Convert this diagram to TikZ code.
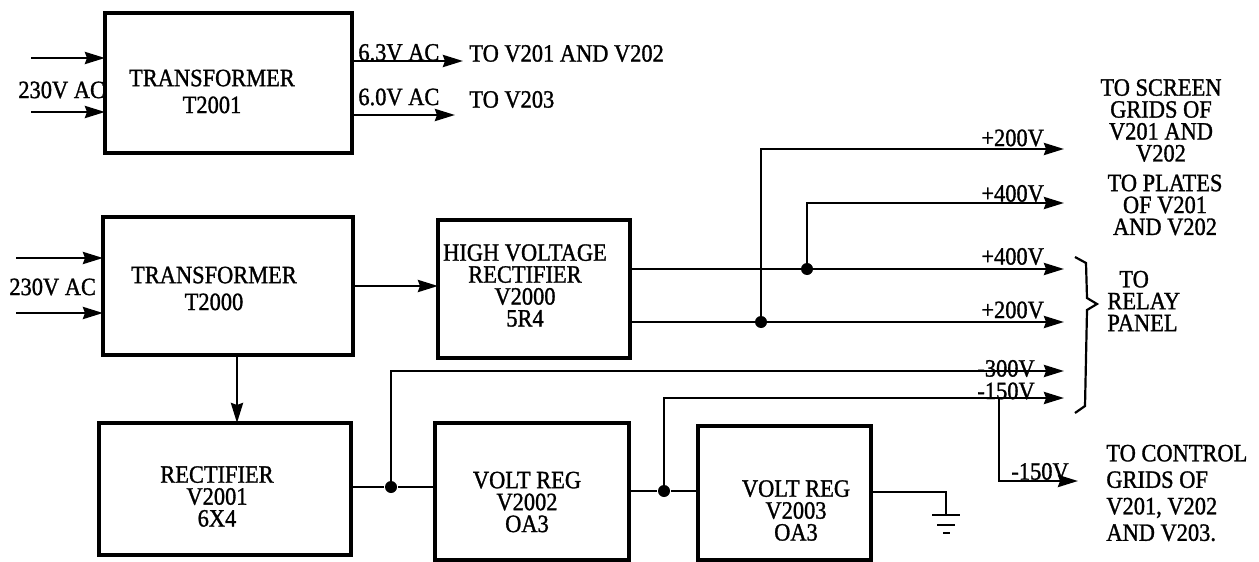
\documentclass[tikz,border=0pt]{standalone}
\usepackage{fontspec}
\setmainfont{Liberation Serif}[FakeStretch=0.9,FakeBold=1.2]
\usetikzlibrary{arrows.meta}

\begin{document}
\begin{tikzpicture}[
  x=0.5bp, y=-0.5bp,
  line width=1.4bp,
  arr/.style={-{Stealth[length=10bp,width=6bp,inset=1bp]}},
  blk/.style={draw,rectangle,inner sep=0pt,outer sep=0pt,line width=1.6bp},
  txt/.style={inner sep=0pt,align=center,font=\fontsize{12.5}{11}\selectfont},
  lbl/.style={inner sep=0pt,anchor=west,font=\fontsize{12.5}{15}\selectfont},
  dot/.style={circle,fill,inner sep=0pt,minimum size=6bp}
]
  \useasboundingbox (0,0) rectangle (1259,562);

  % blocks
  \node[blk,minimum width=123.5bp,minimum height=70bp] (t2001) at (228.5,83) {};
  \node[blk,minimum width=125bp,minimum height=69bp] (t2000) at (228,286) {};
  \node[blk,minimum width=96bp,minimum height=69bp] (hv) at (534,289) {};
  \node[blk,minimum width=126bp,minimum height=66bp] (rc) at (225,489) {};
  \node[blk,minimum width=97bp,minimum height=68.5bp] (vr2) at (532,491.5) {};
  \node[blk,minimum width=86.5bp,minimum height=67bp] (vr3) at (784.5,493) {};

  \node[txt,font=\fontsize{12.5}{13.5}\selectfont] (t2001txt) at (212,91.5) {TRANSFORMER\\T2001};
  \node[txt,font=\fontsize{12.5}{13.5}\selectfont] (t2000txt) at (214,288.5) {TRANSFORMER\\T2000};
  \node[txt] (hvtxt) at (525,285.5) {HIGH VOLTAGE\\RECTIFIER\\V2000\\5R4};
  \node[txt] (rctxt) at (217,496.5) {RECTIFIER\\V2001\\6X4};
  \node[txt] (vr2txt) at (527,502) {VOLT REG\\V2002\\OA3};
  \node[txt] (vr3txt) at (796,510.5) {VOLT REG\\V2003\\OA3};

  % transformer T2001
  \coordinate (a1) at (31,58);
  \coordinate (a2) at (31,112);
  \coordinate (o1) at (463,61);
  \coordinate (o2) at (455,115);
  \draw[arr] (a1) -- (a1 -| t2001.west);
  \draw[arr] (a2) -- (a2 -| t2001.west);
  \draw[arr] (o1 -| t2001.east) -- (o1);
  \draw[arr] (o2 -| t2001.east) -- (o2);
  \node[lbl] (ac1) at (17,90) {230V AC};
  \node[lbl] (l63) at (357,52.5) {6.3V AC};
  \node[lbl] (l60) at (357,97) {6.0V AC};
  \node[lbl] (d63) at (468,53.5) {TO V201 AND V202};
  \node[lbl] (d60) at (468,99.5) {TO V203};

  % transformer T2000
  \coordinate (b1) at (16,258);
  \coordinate (b2) at (16,313);
  \draw[arr] (b1) -- (b1 -| t2000.west);
  \draw[arr] (b2) -- (b2 -| t2000.west);
  \node[lbl] (ac0) at (8,287) {230V AC};
  \draw[arr] (t2000.east |- 0,286) -- (hv.west |- 0,286);
  \draw[arr] (t2000.south -| 237,0) -- (rc.north -| 237,0);

  % high voltage outputs
  \coordinate (p400) at (1064,269);
  \coordinate (p200) at (1064,322);
  \coordinate (s200) at (1064,149);
  \coordinate (s400) at (1064,203);
  \node[dot] (j400) at (807,269) {};
  \node[dot] (j200) at (761,322) {};
  \draw[arr] (hv.east |- p400) -- (p400);
  \draw[arr] (hv.east |- p200) -- (p200);
  \draw[arr] (j200.center) -- (j200 |- s200) -- (s200);
  \draw[arr] (j400.center) -- (j400 |- s400) -- (s400);
  \node[lbl] (v200a) at (980,138) {+200V};
  \node[lbl] (v400a) at (980,193.5) {+400V};
  \node[lbl] (v400b) at (980,256.5) {+400V};
  \node[lbl] (v200b) at (980,310) {+200V};

  % negative supply chain
  \coordinate (n300) at (1064,371);
  \coordinate (n150) at (1064,398);
  \coordinate (b150) at (999,398);
  \coordinate (c150) at (1078,481);
  \node[dot] (jr) at (391,487) {};
  \node[dot] (j150) at (664,491) {};
  \draw (rc.east |- jr) -- (jr) -- (vr2.west |- jr);
  \draw (vr2.east |- j150) -- (j150) -- (vr3.west |- j150);
  \draw[arr] (jr.center) -- (jr |- n300) -- (n300);
  \draw[arr] (j150.center) -- (j150 |- n150) -- (n150);
  \draw[arr] (b150) -- (b150 |- c150) -- (c150);
  \node[lbl] (v300) at (976,368.5) {-300V};
  \node[lbl] (v150a) at (976,391) {-150V};
  \node[lbl] (v150b) at (1010,471.5) {-150V};

  % ground
  \coordinate (gnd) at (946,515);
  \draw (vr3.east |- 0,492) -| (gnd);
  \draw (932,515) -- (960,515);
  \draw (937,525) -- (955,525);
  \draw (943,533) -- (950,533);

  % brace
  \draw[line width=1.1bp] (1075,257) -- (1086,263) -- (1087,298) -- (1097,304)
    -- (1087,310) -- (1085,406) -- (1075,413);

  % destinations
  \node[txt] (scr) at (1161,120.5) {TO SCREEN\\GRIDS OF\\V201 AND\\V202};
  \node[txt] (plt) at (1165,205) {TO PLATES\\OF V201\\AND V202};
  \node[txt,align=left,anchor=west] (rly) at (1106,301) {\hspace{6bp}TO\\RELAY\\PANEL};
  \node[txt,align=left,anchor=west,font=\fontsize{12.5}{13.3}\selectfont] (ctl) at (1105,493)
    {TO CONTROL\\GRIDS OF\\V201, V202\\AND V203.};
\end{tikzpicture}
\end{document}
